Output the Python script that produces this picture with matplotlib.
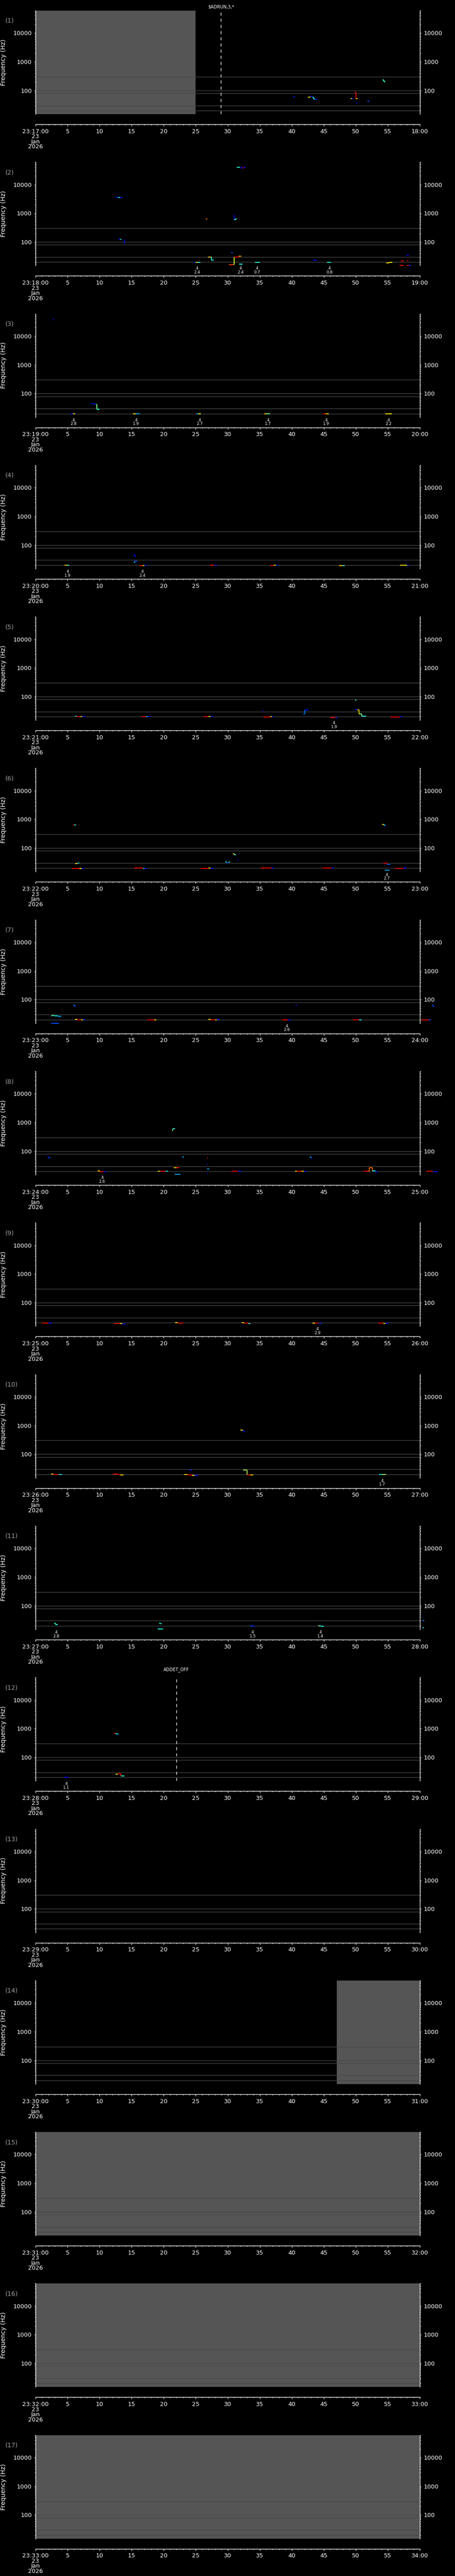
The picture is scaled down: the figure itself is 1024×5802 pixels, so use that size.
import matplotlib
matplotlib.use('Agg')
import matplotlib.pyplot as plt
import matplotlib.transforms as mtransforms
from matplotlib.ticker import FixedLocator, NullFormatter

# each track: list of (second, frequency Hz, colour level 0..1 on jet)
tracks_01 = [
    [(40.2, 61, .15), (40.5, 61, .15)],
    [(42.5, 57, .68), (42.9, 63, .1), (43.2, 57, .38), (43.4, 50, .38), (43.6, 48, .15), (44.0, 48, .15)],
    [(49.2, 53, .68), (49.4, 53, .15), (49.6, 53, .15)],
    [(49.8, 87, .9), (50.0, 53, .68), (50.3, 53, .68)],
    [(50.0, 37, .12), (50.2, 37, .12)],
    [(51.8, 42, .2), (52.1, 42, .2)],
    [(54.2, 235, .4), (54.4, 200, .4), (54.6, 200, .4)],
]
tracks_02 = [
    [(31.4, 39000, .38), (31.9, 38000, .1), (32.3, 38000, .9), (32.5, 39000, .1), (32.8, 39000, .1)],
    [(12.5, 3600, .15), (12.9, 3500, .38), (13.2, 3500, .15), (13.5, 3500, .15)],
    [(26.6, 640, .8), (26.8, 620, .75)],
    [(30.98, 880, .1), (31.0, 600, .45), (31.2, 640, .38), (31.45, 640, .38)],
    [(13.0, 130, .12), (13.2, 125, .4), (13.4, 125, .4)],
    [(13.85, 125, .1), (13.9, 88, .1)],
    [(30.5, 42, .2), (30.8, 42, .2)],
    [(26.9, 29.5, .7), (27.4, 29.5, .38), (27.45, 23, .38), (27.8, 23, .38)],
    [(30.2, 16.5, .85), (30.95, 16.5, .6), (31.0, 30, .9), (31.5, 30, .9), (31.7, 31.5, .75), (32.1, 31.5, .75)],
    [(31.8, 17, .38), (32.3, 17, .38)],
    [(24.7, 19.2, .15), (25.0, 19.2, .68), (25.3, 19.6, .38), (25.7, 19.6, .15)],
    [(34.3, 19.6, .38), (35.0, 19.6, .2)],
    [(43.3, 23, .12), (43.6, 23.5, .15), (43.9, 23.5, .15)],
    [(45.5, 19.6, .38), (46.1, 19.6, .2)],
    [(54.7, 19, .68), (55.2, 19.6, .65), (55.7, 19.6, .15)],
    [(57.9, 34, .12), (58.3, 34, .12)],
    [(57.0, 21.5, .9), (57.4, 21.5, .9)],
    [(58.0, 22.5, .9), (58.2, 22.5, .9)],
    [(56.8, 15.4, .9), (57.5, 15.4, .9)],
    [(57.9, 15.4, .9), (58.3, 15.4, .15), (58.6, 15.4, .15)],
]
tracks_03 = [
    [(2.7, 36800, .12), (2.9, 36800, .12)],
    [(8.7, 45, .12), (9.1, 43, .15), (9.4, 41, .5), (9.6, 28, .38), (10.0, 28, .38)],
    [(5.5, 19.5, .15), (5.8, 19.9, .68), (6.2, 19.9, .38)],
    [(15.2, 20, .68), (15.7, 20, .3), (16.2, 20.3, .12)],
    [(25.1, 19.5, .3), (25.4, 19.9, .65), (25.8, 19.9, .3)],
    [(35.7, 20, .68), (36.1, 20, .45), (36.6, 20, .45)],
    [(44.9, 20, .9), (45.3, 20, .68), (45.8, 20, .3)],
    [(54.6, 19.5, .68), (55.0, 19.9, .65), (55.6, 19.9, .15)],
]
tracks_04 = [
    [(15.3, 46, .12), (15.5, 41, .12), (15.7, 41, .12)],
    [(15.3, 24.5, .3), (15.5, 27, .2), (15.9, 27, .2)],
    [(4.5, 19.6, .7), (4.9, 19.6, .4), (5.3, 19.6, .4)],
    [(16.2, 19, .9), (16.7, 19.3, .68), (17.0, 19.6, .15), (17.4, 19.6, .15)],
    [(27.2, 19.9, .9), (27.9, 20.2, .15), (28.3, 20.2, .15)],
    [(36.6, 19, .9), (37.2, 19.6, .68), (37.5, 20, .15), (37.9, 20, .15)],
    [(47.4, 19, .68), (47.9, 19, .38), (48.3, 19, .38)],
    [(56.9, 19.6, .68), (57.6, 19.9, .65), (58.0, 20, .15), (58.3, 20, .15)],
]
tracks_05 = [
    [(6.2, 21, .38), (6.35, 19.8, .9), (7.0, 19.8, .68), (7.3, 20, .15), (7.8, 20, .15)],
    [(16.6, 20, .9), (17.3, 19.8, .38), (17.5, 20, .15), (18.0, 20, .15)],
    [(26.2, 19.8, .9), (27.0, 19.8, .68), (27.3, 20, .15), (27.8, 20, .15)],
    [(35.4, 33, .12), (35.6, 33, .12)],
    [(35.6, 19.6, .9), (36.6, 19.8, .68), (36.9, 20, .15), (37.2, 20, .15)],
    [(41.8, 25, .25), (42.0, 34, .15), (42.6, 34.7, .15)],
    [(46.0, 19, .9), (46.6, 18.5, .9), (46.8, 18.3, .15), (47.1, 18.3, .15)],
    [(49.9, 75, .38), (50.1, 75, .38)],
    [(49.9, 35, .12), (50.2, 34, .68), (50.5, 25, .5), (50.9, 20.5, .38), (51.6, 20.5, .2)],
    [(55.4, 19.6, .9), (56.4, 19.6, .9), (56.8, 19.8, .15), (57.2, 19.8, .15)],
]
tracks_06 = [
    [(5.8, 640, .9), (6.0, 630, .38), (6.3, 650, .38)],
    [(54.1, 660, .68), (54.4, 640, .38), (54.5, 590, .15), (54.7, 590, .15)],
    [(6.2, 29, .68), (6.5, 30, .38), (6.8, 31, .38)],
    [(5.7, 19.5, .9), (6.6, 19.5, .9), (6.9, 19.8, .68), (7.2, 19.6, .15), (7.6, 19.6, .15)],
    [(29.6, 33, .38), (29.8, 31.5, .15), (30.1, 32, .38), (30.3, 33, .38)],
    [(30.8, 64, .68), (31.0, 59, .4), (31.3, 58, .4)],
    [(31.5, 39, .12), (31.7, 39, .12)],
    [(15.4, 20, .9), (16.5, 20, .9), (16.8, 19.8, .35), (17.0, 19.5, .15), (17.4, 19.5, .15)],
    [(25.8, 19.5, .9), (26.7, 19.8, .9), (27.0, 20, .68), (27.3, 19.6, .15), (27.8, 19.6, .15)],
    [(35.2, 20, .9), (36.6, 20, .9), (36.8, 20, .15), (37.2, 20, .15)],
    [(44.8, 20, .9), (46.0, 20, .9), (46.2, 20, .15), (46.6, 20, .15)],
    [(54.3, 30, .9), (54.9, 27, .2), (55.4, 27, .2)],
    [(54.5, 17, .3), (55.3, 17, .3)],
    [(56.1, 19.6, .9), (57.1, 19.6, .9), (57.4, 20, .15), (57.9, 20, .15)],
]
tracks_07 = [
    [(2.4, 27, .45), (2.6, 28.2, .45), (2.9, 27, .38), (3.5, 26, .3), (4.0, 26, .3)],
    [(2.4, 15, .2), (3.7, 15, .2)],
    [(5.9, 64, .25), (6.1, 58, .15), (6.3, 58, .15)],
    [(6.2, 20.2, .68), (6.5, 20, .9), (7.1, 20, .68), (7.4, 20.2, .15), (7.8, 20.2, .15)],
    [(17.4, 19.6, .9), (18.5, 19.8, .68), (18.9, 19.8, .68)],
    [(27.0, 20.2, .68), (27.3, 20, .9), (28.0, 20, .68), (28.3, 20.2, .15), (28.7, 20.2, .15)],
    [(38.5, 19.6, .9), (39.4, 19.8, .15), (39.8, 19.8, .15)],
    [(40.6, 64, .15), (40.8, 64, .15)],
    [(49.5, 19.6, .9), (50.5, 19.8, .38), (50.9, 19.8, .38)],
    [(60.2, 19.6, .9), (61.4, 19.6, .2), (61.7, 19.6, .2)],
    [(61.9, 64, .2), (62.1, 58, .15), (62.3, 58, .15)],
]
tracks_08 = [
    [(1.9, 62, .15), (2.1, 58, .2), (2.3, 58, .2)],
    [(21.3, 530, .5), (21.4, 600, .38), (21.8, 600, .3)],
    [(22.9, 62, .3), (23.2, 62, .3)],
    [(26.75, 59, .9), (26.9, 59, .9)],
    [(26.75, 34, .15), (26.9, 34, .15)],
    [(26.8, 23.5, .3), (27.1, 23.5, .3)],
    [(26.75, 16.5, .12), (26.9, 16.5, .12)],
    [(21.6, 27, .68), (22.0, 27, .9), (22.5, 27, .8)],
    [(21.7, 15.6, .3), (22.6, 15.6, .3)],
    [(9.7, 20.5, .68), (10.0, 19.6, .9), (10.6, 19.2, .15), (11.0, 19.2, .15)],
    [(19.1, 20.3, .68), (19.4, 19.8, .9), (20.3, 19.8, .38), (20.7, 19.8, .38)],
    [(30.6, 19.8, .9), (31.6, 19.8, .15), (32.2, 19.8, .15)],
    [(42.8, 62, .3), (43.0, 58, .15), (43.2, 58, .15)],
    [(40.5, 20.3, .68), (40.8, 19.8, .9), (41.5, 19.8, .68), (41.9, 19.8, .15), (42.1, 19.2, .15), (42.3, 19.2, .15)],
    [(51.2, 19.8, .9), (51.9, 19.8, .8), (52.1, 27, .8), (52.6, 21, .38), (53.0, 19.3, .15), (53.4, 19.3, .15)],
    [(61.0, 19.8, .9), (62.0, 19.3, .15), (62.8, 19.3, .15)],
]
tracks_09 = [
    [(1.0, 19.7, .9), (2.0, 19.4, .15), (2.6, 19.4, .15)],
    [(12.2, 18.8, .9), (13.2, 18.5, .68), (13.5, 18.3, .15), (14.0, 18.3, .15)],
    [(21.8, 20.3, .68), (22.2, 19.8, .9), (23.1, 19.8, .9)],
    [(32.2, 20.5, .68), (32.5, 19.6, .9), (33.2, 18.5, .38), (33.5, 18.3, .15)],
    [(43.2, 19.8, .68), (43.6, 19.6, .9), (44.2, 18.5, .15), (44.7, 18.5, .15)],
    [(53.5, 19.4, .9), (54.3, 18.6, .68), (54.6, 18.6, .15), (55.1, 18.6, .15)],
]
tracks_10 = [
    [(32.0, 700, .68), (32.3, 650, .15), (32.6, 580, .15)],
    [(24.0, 28, .15), (24.4, 28, .15)],
    [(2.4, 20.3, .68), (2.8, 20, .9), (3.6, 20, .38), (4.1, 20.2, .3)],
    [(12.1, 20.3, .9), (12.8, 19.6, .9), (13.2, 19, .68), (13.7, 18.8, .15)],
    [(23.2, 19.6, .68), (23.7, 19.2, .9), (24.4, 18.3, .68), (24.8, 18.6, .15), (25.4, 18.6, .15)],
    [(32.4, 28, .55), (33.0, 19.2, .9), (33.5, 18.8, .68), (34.0, 18.8, .15)],
    [(53.6, 19.8, .38), (54.1, 19.4, .55), (54.7, 19.4, .55)],
]
tracks_11 = [
    [(2.9, 24.3, .4), (3.15, 22.5, .38), (3.5, 22, .3)],
    [(19.3, 24.5, .38), (19.5, 23.5, .38), (19.7, 23.5, .38)],
    [(19.1, 15.7, .38), (19.9, 15.7, .38)],
    [(33.5, 20, .2), (33.9, 19.5, .15), (34.3, 19.5, .15)],
    [(44.1, 20, .45), (44.5, 19.5, .38), (45.0, 19.5, .15)],
    [(60.4, 43, .12), (60.5, 43, .12)],
    [(60.4, 30, .25), (60.7, 30, .25)],
    [(60.4, 17.5, .38), (60.6, 17.5, .38)],
]
tracks_12 = [
    [(12.2, 676, .9), (12.5, 660, .38), (12.8, 620, .15), (13.0, 620, .15)],
    [(4.5, 20.3, .12), (5.1, 20.3, .12)],
    [(12.5, 26, .6), (12.8, 27, .9), (13.3, 22.5, .38), (13.9, 22.5, .4)],
]
all_tracks = [tracks_01, tracks_02, tracks_03, tracks_04, tracks_05, tracks_06,
              tracks_07, tracks_08, tracks_09, tracks_10, tracks_11, tracks_12,
              [], [], [], [], []]

# "4 / x.x" markers under the plot: (second, lower number)
ann_02 = [(25.2, '2.4'), (32.0, '2.4'), (34.6, '0.7'), (45.9, '0.8')]
ann_03 = [(5.9, '2.8'), (15.7, '1.9'), (25.6, '2.7'), (36.3, '1.7'), (45.4, '1.9'), (55.1, '2.2')]
ann_04 = [(5.0, '1.9'), (16.7, '2.4')]
ann_05 = [(46.6, '1.9')]
ann_06 = [(54.8, '2.7')]
ann_07 = [(39.2, '2.6')]
ann_08 = [(10.4, '2.6')]
ann_09 = [(44.0, '2.9')]
ann_10 = [(54.1, '1.7')]
ann_11 = [(3.2, '2.8'), (33.9, '1.5'), (44.5, '1.4')]
ann_12 = [(4.8, '1.1')]
all_ann = {2: ann_02, 3: ann_03, 4: ann_04, 5: ann_05, 6: ann_06, 7: ann_07,
           8: ann_08, 9: ann_09, 10: ann_10, 11: ann_11, 12: ann_12}

# event markers: panel -> (second, label, offset above plot in px)
events = {1: (28.95, r'\$ADRUN,3,*', 8), 12: (22.0, 'ADDET_OFF', 18)}
# grey "no data" spans
gaps = {1: (0, 25), 14: (47, 60), 15: (0, 60), 16: (0, 60), 17: (0, 60)}
ref_lines = [300, 100, 80, 30, 20]

W, H = 1024, 5802
fig = plt.figure(figsize=(W / 100, H / 100), dpi=100, facecolor='black')
cmap = plt.get_cmap('jet')
n_panels = 17
pitch = H / n_panels
ax_h = 233

for k in range(n_panels):
    num = k + 1
    top = 24 + k * pitch
    ax = fig.add_axes([80 / W, 1 - (top + ax_h) / H, 865 / W, ax_h / H])
    ax.set_facecolor('black')
    ax.set_yscale('log')
    ax.set_xlim(0, 60)
    ax.set_ylim(15, 60000)

    for s in ['left', 'right', 'bottom']:
        ax.spines[s].set_color('white')
        ax.spines[s].set_linewidth(1.0)
    ax.spines['top'].set_visible(False)
    ax.spines['bottom'].set_position(('outward', 23 * 0.72))

    if num in gaps:
        ax.axvspan(gaps[num][0], gaps[num][1], color='#555555', lw=0, zorder=0.5)
    for f in ref_lines:
        ax.axhline(f, color='#464646', lw=1.0, zorder=1)

    for tr in all_tracks[k]:
        for i in range(len(tr) - 1):
            t0, f0, c0 = tr[i]
            t1, f1, _ = tr[i + 1]
            col = cmap(c0)
            ax.plot([t0, t1], [f0, f0], color=col, lw=1.4, solid_capstyle='butt',
                    clip_on=False, zorder=3)
            if f1 != f0:
                ax.plot([t1, t1], [f0, f1], color=col, lw=1.4, solid_capstyle='butt',
                        clip_on=False, zorder=3)

    for t, v in all_ann.get(num, []):
        ax.annotate('4\n' + v, xy=(t, 0), xycoords=('data', 'axes fraction'),
                    xytext=(0, -1.5), textcoords='offset points', ha='center', va='top',
                    fontsize=6.5, color='white', linespacing=0.95)

    if num in events:
        t, lbl, off = events[num]
        ax.axvline(t, color='white', lw=1.0, linestyle=(0, (5, 5)), zorder=4)
        tr_b = mtransforms.blended_transform_factory(ax.transData, ax.transAxes)
        ax.text(t, 1 + off / ax_h, lbl, transform=tr_b, ha='center', va='center',
                fontsize=7, color='white')

    # y axis, labels on both sides
    ax.yaxis.set_major_locator(FixedLocator([100, 1000, 10000]))
    ax.set_yticklabels(['100', '1000', '10000'])
    minors = [m * 10 ** e for e in range(1, 5) for m in range(2, 10)]
    ax.yaxis.set_minor_locator(FixedLocator([v for v in minors if 15 <= v <= 60000]))
    ax.yaxis.set_minor_formatter(NullFormatter())
    ax.tick_params(axis='y', which='both', left=True, right=True, labelleft=True,
                   labelright=True, colors='white', direction='out', labelsize=9.5)
    ax.tick_params(axis='y', which='major', length=2.5, width=0.8, pad=3.5)
    ax.tick_params(axis='y', which='minor', length=1.5, width=0.8)

    # x axis in seconds of the minute
    first = '23:%02d:00\n23\nJan\n2026' % (17 + k)
    last = '%02d:00' % (18 + k)
    xt = list(range(0, 61, 5))
    ax.set_xticks(xt)
    ax.set_xticklabels([first] + [str(v) for v in xt[1:-1]] + [last], linespacing=0.85)
    ax.xaxis.set_minor_locator(FixedLocator(list(range(0, 61))))
    ax.tick_params(axis='x', which='both', colors='white', direction='out', labelsize=9.5)
    ax.tick_params(axis='x', which='major', length=3, width=0.8, pad=4)
    ax.tick_params(axis='x', which='minor', length=1.6, width=0.8)

    ax.set_ylabel('Frequency (Hz)', color='white', fontsize=10)
    ax.yaxis.set_label_coords(-0.075, 0.5)
    ax.text((12 - 80) / 865, 1 - 23 / ax_h, '(%d)' % num, transform=ax.transAxes,
            ha='left', va='center', color='#a0a0a0', fontsize=10)

fig.savefig('out.png', dpi=100, facecolor='black')
